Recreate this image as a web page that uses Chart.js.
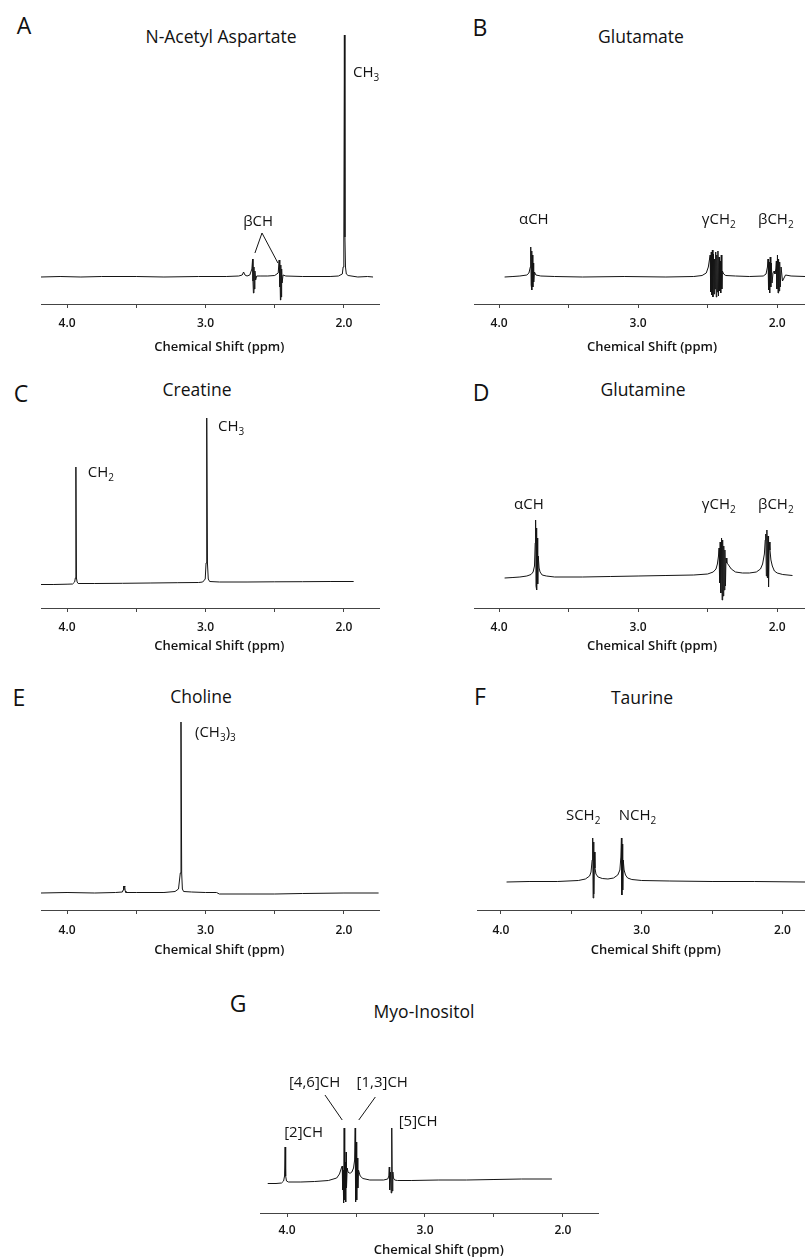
<!DOCTYPE html>
<html>
<head>
<meta charset="utf-8">
<script src="https://cdn.jsdelivr.net/npm/chart.js@4.4.1/dist/chart.umd.min.js"></script>
<style>
  html,body{margin:0;padding:0;background:#fff;}
  body{width:805px;height:1260px;position:relative;overflow:hidden;font-family:"Open Sans",sans-serif;color:#111;}
  .lt{position:absolute;font-size:23px;line-height:1;transform:translate(-50%,-50%);}
  .tt{position:absolute;font-size:17.5px;line-height:1;transform:translate(-50%,-50%);white-space:nowrap;}
  canvas{position:absolute;}
</style>
</head>
<body>
<div class="lt" style="left:24px;top:25px">A</div>
<div class="tt" style="left:221px;top:37px">N-Acetyl Aspartate</div>
<div class="lt" style="left:480px;top:27px">B</div>
<div class="tt" style="left:641px;top:37px">Glutamate</div>
<div class="lt" style="left:21px;top:393px">C</div>
<div class="tt" style="left:197px;top:390px">Creatine</div>
<div class="lt" style="left:481px;top:392px">D</div>
<div class="tt" style="left:643px;top:390px">Glutamine</div>
<div class="lt" style="left:19px;top:697px">E</div>
<div class="tt" style="left:201px;top:697px">Choline</div>
<div class="lt" style="left:480px;top:696px">F</div>
<div class="tt" style="left:642px;top:698px">Taurine</div>
<div class="lt" style="left:238px;top:1003px">G</div>
<div class="tt" style="left:424px;top:1012px">Myo-Inositol</div>

<canvas id="cA" width="400" height="359" style="left:0;top:0"></canvas>
<canvas id="cB" width="405" height="359" style="left:400px;top:0"></canvas>
<canvas id="cC" width="400" height="303" style="left:0;top:360px"></canvas>
<canvas id="cD" width="405" height="303" style="left:400px;top:360px"></canvas>
<canvas id="cE" width="400" height="305" style="left:0;top:660px"></canvas>
<canvas id="cF" width="405" height="305" style="left:400px;top:660px"></canvas>
<canvas id="cG" width="420" height="228" style="left:200px;top:1030px"></canvas>

<script>
// ---------- DATA (chemical shift in ppm, intensity in arbitrary units) ----------
const tickValues = [4.0, 3.0, 2.0];
const axisTitle = 'Chemical Shift (ppm)';

// A: N-Acetyl Aspartate
const naaPpm = [4.19,4.05,3.90,3.75,3.50,3.30,3.05,2.85,2.76,2.735,2.725,2.715,2.70,2.68,2.665,2.660,2.657,2.654,2.650,2.647,2.643,2.638,2.63,2.60,2.55,2.50,2.475,2.468,2.465,2.462,2.459,2.456,2.453,2.450,2.447,2.44,2.42,2.30,2.10,2.04,2.012,2.006,2.001,1.997,1.993,1.989,1.983,1.97,1.90,1.83,1.79];
const naaInt = [0,0.5,0,0.5,0.5,0,0.5,0.5,1,2,5,2,1,2,8,18,-4,-16,10,-12,6,-3,1,1,1,1.5,4,17,-10,14,-23,12,-20,8,-6,2,1,0.5,0.5,1,3,10,40,242,40,10,3,1.5,0,0.5,0];

// B: Glutamate
const gluPpm = [3.96,3.90,3.85,3.80,3.785,3.775,3.772,3.769,3.766,3.763,3.760,3.757,3.754,3.751,3.745,3.735,3.70,3.60,3.40,3.10,2.80,2.60,2.54,2.51,2.495,2.482,2.478,2.474,2.470,2.466,2.462,2.458,2.454,2.450,2.446,2.442,2.438,2.434,2.430,2.426,2.422,2.418,2.414,2.410,2.406,2.402,2.398,2.394,2.385,2.37,2.30,2.20,2.10,2.08,2.070,2.066,2.062,2.058,2.054,2.050,2.046,2.042,2.037,2.030,2.022,2.016,2.010,2.006,2.002,1.998,1.994,1.990,1.986,1.982,1.978,1.972,1.962,1.94,1.90,1.80];
const gluInt = [0,0.5,1,2,4,10,30,-8,26,-13,22,-10,14,-5,5,2,1,0.5,0,0.5,0,0.5,1.5,4,10,22,-15,25,-18,27,-20,23,-17,18,-12,25,-20,22,-15,26,-19,20,-14,16,-16,22,-12,6,3,1.5,1,0.5,1,3,10,18,-13,15,-16,20,-10,14,-6,4,6,3,8,16,-12,22,-16,18,-14,15,-10,10,-4,2,1,0.5,0];

// C: Creatine
const crPpm = [4.20,4.10,4.00,3.96,3.945,3.940,3.936,3.932,3.927,3.92,3.80,3.60,3.40,3.20,3.05,3.02,3.002,2.996,2.991,2.986,2.980,2.97,2.90,2.70,2.50,2.30,2.10,1.93];
const crInt = [-1.5,-1.5,-1.2,-1,1,5,116,5,1,-0.5,-0.5,-0.3,0,0.3,0.5,1,4,20,165,20,4,1.5,1,1,1.2,1.3,1.5,1.5];

// D: Glutamine
const glnPpm = [3.96,3.90,3.85,3.80,3.77,3.755,3.745,3.740,3.737,3.734,3.731,3.728,3.725,3.722,3.718,3.712,3.705,3.69,3.66,3.60,3.40,3.20,3.00,2.80,2.60,2.50,2.46,2.44,2.43,2.422,2.418,2.414,2.410,2.405,2.400,2.396,2.392,2.388,2.384,2.380,2.376,2.372,2.368,2.362,2.355,2.345,2.33,2.30,2.25,2.20,2.15,2.12,2.105,2.092,2.086,2.082,2.078,2.074,2.070,2.066,2.062,2.058,2.052,2.045,2.035,2.02,2.00,1.96,1.89];
const glnInt = [0,0.5,1,2,3.5,6,12,35,58,-8,50,-12,40,-6,22,10,6,3,2,1,1,1.5,2,2.5,3,4,6,9,14,22,30,-5,36,-15,40,-22,38,-18,32,-12,28,-8,20,15,14,12,9,6,5,5,6,9,14,24,38,44,2,48,0,42,-9,36,28,18,12,7,5,3.5,2.5];

// E: Choline
const choPpm = [4.19,4.00,3.80,3.65,3.60,3.595,3.592,3.589,3.586,3.583,3.580,3.575,3.50,3.30,3.22,3.195,3.182,3.177,3.172,3.167,3.158,3.10,3.00,2.92,2.90,2.70,2.50,2.30,2.00,1.75];
const choInt = [0,0.5,0,0.5,1,3,7,3,7,6,2,0.5,0.5,0.5,1.5,4,20,171,20,4,1.5,1,0.5,0.5,-1,-1,-1,-0.5,0,0];

// F: Taurine
const tauPpm = [3.96,3.80,3.60,3.45,3.40,3.37,3.36,3.352,3.348,3.345,3.342,3.339,3.336,3.332,3.325,3.31,3.28,3.24,3.20,3.17,3.155,3.148,3.144,3.141,3.138,3.135,3.131,3.125,3.115,3.10,3.07,3.00,2.80,2.50,2.20,1.84];
const tauInt = [0,0.5,0.5,1.5,3,6,10,22,44,-16,40,-12,30,14,8,5,3.5,3,4,7,12,25,44,-13,38,-8,22,12,7,4,2.5,1.5,1,0.5,0.5,0];

// G: Myo-Inositol
const myoPpm = [4.14,4.08,4.04,4.025,4.018,4.014,4.010,4.004,3.99,3.90,3.80,3.70,3.64,3.62,3.606,3.600,3.597,3.594,3.590,3.586,3.582,3.578,3.575,3.572,3.569,3.564,3.558,3.55,3.54,3.53,3.518,3.510,3.506,3.503,3.499,3.495,3.491,3.487,3.482,3.47,3.45,3.40,3.30,3.27,3.262,3.259,3.256,3.250,3.245,3.241,3.237,3.233,3.229,3.22,3.20,3.10,2.90,2.70,2.50,2.30,2.08];
const myoInt = [-1.5,-1.5,-1,1,6,35,6,1,0,0,0.5,1.5,4,8,14,16,-8,12,-21,54,-18,20,-20,30,-6,14,10,9,9,10,14,22,54,-20,40,-18,24,-6,12,6,3.5,2,2,3,6,15,-8,10,-11,54,-9,10,4,2,1.5,1.5,2,2,2.5,3,3];

// ---------- rendering helpers ----------
const FONT = '"Open Sans", sans-serif';
const INK = '#141414';

function drawRich(ctx, text, x, y, align) {
  // "_" marks the following character as a subscript
  const segs = [];
  for (let i = 0; i < text.length; i++) {
    if (text[i] === '_' && i + 1 < text.length) { segs.push({c: text[i + 1], sub: true}); i++; }
    else segs.push({c: text[i], sub: false});
  }
  const fMain = '15px ' + FONT, fSub = '10px ' + FONT;
  let w = 0;
  segs.forEach(s => { ctx.font = s.sub ? fSub : fMain; s.w = ctx.measureText(s.c).width; w += s.w; });
  let cx = align === 'left' ? x : x - w / 2;
  ctx.textAlign = 'left';
  ctx.textBaseline = 'middle';
  segs.forEach(s => {
    ctx.font = s.sub ? fSub : fMain;
    ctx.fillText(s.c, cx, s.sub ? y + 5 : y);
    cx += s.w;
  });
}

const annotPlugin = {
  id: 'annot',
  afterDraw(chart, args, opts) {
    const {ctx, scales: {x, y}} = chart;
    ctx.save();
    ctx.fillStyle = INK;
    ctx.strokeStyle = INK;
    (opts.labels || []).forEach(l => drawRich(ctx, l.t, x.getPixelForValue(l.x), y.getPixelForValue(l.y), l.align));
    ctx.lineWidth = 1;
    (opts.lines || []).forEach(s => {
      ctx.beginPath();
      ctx.moveTo(x.getPixelForValue(s[0]), y.getPixelForValue(s[1]));
      ctx.lineTo(x.getPixelForValue(s[2]), y.getPixelForValue(s[3]));
      ctx.stroke();
    });
    ctx.font = '600 13px ' + FONT;
    ctx.textAlign = 'center';
    ctx.textBaseline = 'middle';
    ctx.fillText(axisTitle, x.getPixelForValue(opts.titleAt), chart.chartArea.bottom + opts.titleOffset);
    ctx.restore();
  }
};

function panel(id, ppm, inten, cfg) {
  const data = ppm.map((p, i) => ({x: p, y: inten[i]}));
  return new Chart(document.getElementById(id), {
    type: 'line',
    data: {datasets: [{data, borderColor: INK, borderWidth: 1, pointRadius: 0, tension: 0, fill: false}]},
    options: {
      responsive: false, animation: false, devicePixelRatio: 1, events: [],
      layout: {padding: {left: cfg.padL, right: cfg.padR, top: cfg.padT, bottom: 0}},
      plugins: {
        legend: {display: false}, tooltip: {enabled: false},
        annot: {labels: cfg.labels, lines: cfg.lines || [], titleAt: 2.9, titleOffset: cfg.titleOffset}
      },
      scales: {
        x: {
          type: 'linear', reverse: true, min: cfg.xmin, max: cfg.xmax,
          ticks: {
            stepSize: 0.5, includeBounds: false, autoSkip: false, maxRotation: 0,
            padding: cfg.tickPad, color: INK, font: {family: FONT, size: 12, weight: '600'},
            callback: v => tickValues.some(t => Math.abs(t - v) < 1e-6) ? v.toFixed(1) : ''
          },
          grid: {display: true, drawOnChartArea: false, drawTicks: true, tickLength: 4, color: '#444'},
          border: {display: true, color: '#444', width: 1},
          afterFit: s => { s.height = cfg.scaleH; }
        },
        y: {display: false, min: cfg.ymin, max: cfg.ymax}
      }
    },
    plugins: [annotPlugin]
  });
}

panel('cA', naaPpm, naaInt, {
  padL: 41, padR: 21, padT: 20, xmin: 1.747, xmax: 4.188, ymin: -27, ymax: 257,
  scaleH: 55, tickPad: 8, titleOffset: 43,
  labels: [{t: 'CH_3', x: 1.935, y: 204, align: 'left'}, {t: 'βCH', x: 2.62, y: 55}],
  lines: [[2.592, 44, 2.643, 24], [2.592, 44, 2.477, 14]]
});
panel('cB', gluPpm, gluInt, {
  padL: 74, padR: 0, padT: 20, xmin: 1.80, xmax: 4.18, ymin: -27, ymax: 257,
  scaleH: 55, tickPad: 8, titleOffset: 43,
  labels: [{t: 'αCH', x: 3.75, y: 57}, {t: 'γCH_2', x: 2.42, y: 57}, {t: 'βCH_2', x: 2.01, y: 57}]
});
panel('cC', crPpm, crInt, {
  padL: 41, padR: 21, padT: 40, xmin: 1.747, xmax: 4.188, ymin: -25, ymax: 183,
  scaleH: 55, tickPad: 8, titleOffset: 38,
  labels: [{t: 'CH_3', x: 2.91, y: 156, align: 'left'}, {t: 'CH_2', x: 3.85, y: 110, align: 'left'}]
});
panel('cD', glnPpm, glnInt, {
  padL: 74, padR: 0, padT: 40, xmin: 1.80, xmax: 4.18, ymin: -30, ymax: 178,
  scaleH: 55, tickPad: 8, titleOffset: 38,
  labels: [{t: 'αCH', x: 3.785, y: 73}, {t: 'γCH_2', x: 2.42, y: 73}, {t: 'βCH_2', x: 2.01, y: 73}]
});
panel('cE', choPpm, choInt, {
  padL: 41, padR: 21, padT: 40, xmin: 1.747, xmax: 4.188, ymin: -17, ymax: 193,
  scaleH: 55, tickPad: 9, titleOffset: 40,
  labels: [{t: '(CH_3)_3', x: 3.076, y: 160, align: 'left'}]
});
panel('cF', tauPpm, tauInt, {
  padL: 77, padR: 0, padT: 40, xmin: 1.84, xmax: 4.17, ymin: -28, ymax: 182,
  scaleH: 55, tickPad: 9, titleOffset: 40,
  labels: [{t: 'SCH_2', x: 3.416, y: 66}, {t: 'NCH_2', x: 3.03, y: 66}]
});
panel('cG', myoPpm, myoInt, {
  padL: 60, padR: 22, padT: 30, xmin: 1.746, xmax: 4.196, ymin: -31, ymax: 122,
  scaleH: 45, tickPad: 6, titleOffset: 37,
  labels: [{t: '[4,6]CH', x: 3.80, y: 99}, {t: '[1,3]CH', x: 3.31, y: 99}, {t: '[2]CH', x: 3.88, y: 49}, {t: '[5]CH', x: 3.05, y: 60}],
  lines: [[3.725, 87, 3.60, 62], [3.36, 85, 3.48, 62]]
});
</script>
</body>
</html>
